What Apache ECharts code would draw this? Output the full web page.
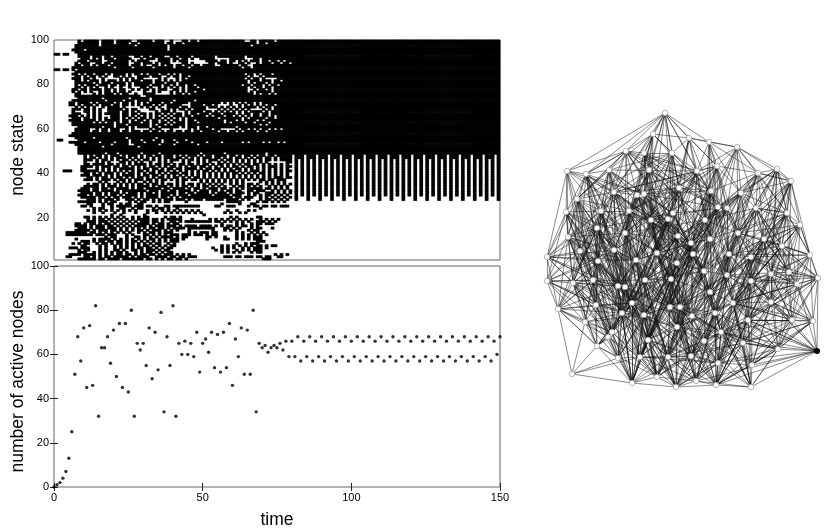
<!DOCTYPE html>
<html>
<head>
<meta charset="utf-8">
<script src="https://cdn.jsdelivr.net/npm/echarts@6/dist/echarts.min.js"></script>
<style>
html, body { margin: 0; padding: 0; background: #fff; }
#chart { width: 830px; height: 532px; }
</style>
</head>
<body>
<div id="chart"></div>
<script>
// node state, top row (100) first, columns t = 0..79
const stateHead = [
"........#.#####.####.#####..#####.###..#...##.##.###############..##.#####.#####",
"........#######.####.####.##.########.##.##.########################.##.#########",
".......########.###########.##########.###########################.##############",
".......###############################.#########################################",
"......####.###########################.#########################################",
".......#########################################################################",
"##.##...########################################################################",
"........####.###.##.#####..##.##.####..##.####.#######.#########.###############",
".........###.#.#.###.#####...#.###.####.##.##.#..#####.....#####...##.##########",
"........###.####..#######.#.####...####.#.###......####.##.##.#.#.###.##.##.#.##",
".......#.###..##.##.#####..##.###.#.###....##.#.....##.###.#..##.#..#.###.##.##.#",
".......##.##.#.###.######.###.#..##.#.##.##.##.##.####..######.##..##############",
"......##############.#####.######.######.####.#################.##.##############",
"##.##.#.########################################################################",
".......#########################################################################",
"......##.#.##.###.#.####.#.##.#.###.##.#.#.#####################.##.#.###.#######",
".......##.#.##.#.#..##.#.#..####.###..#.##.##.###################.#..#.##########",
"......###.##.#..#.....#.#.#.##.....#.#...#.#.###################.#.##.#....######",
".......##.#.###.#.###.#.#.###.###.##.#.#.#.######################.###.###.##.####",
".......######.#.###.####.#.######.###.###.#######################.#.###.#.#######",
".......#.#.###.###.##.##.#.#####.###.##.#.##.##.###############.##.###.#.##.####",
".......##.#.#.#..#.#..#..#...##.#..#.#.#.#.#.###.################.#.##.##.#######",
"......##.##.####.##.#.##..#.#.##.#.###..##.#.#####.##############..#.##.#.######",
"......#.#.#.#..#.##.#.##.#....#..#.#...#.#.#.##.#################.#.#####.#######",
".......##....#.#.###.#.##..#..####.....#.##.#.#####################.#.##.#.######",
".......######################..#################################################",
"........########.########.######.###############################################",
"......###########.#####.###.####.#######.######.################################",
".....##.####.#.#####.#.##.#.#.#.####.##.#####.##########.#.#.#.#.##.#.##########",
".....##.#.###.#.###.##.##.#.#.###.#.#.#####...####.##.#....#..#.#.#.#.#.##.#####",
".......#.#.#.#..#.####.#.....#.#.#.#..####.##.#####.###.#.#.#.#.####.#.##.######",
"......###.##.#.#..#####.#.##....##..#.#.#.##.#.####....#.#.#.#.#.#....#.#.######",
"......#...##.#.#..####.##.#.#.....#.###.#...#.####.##.#.#.#.#.#.#.####.#.#######",
"......###..#.#.#.#####.##.##.##.#.##.#.#.##.#.##.###.###.####.#.##.##.##.#######",
".....###.#.#.#.#...###.##.#.#.#.#.#.#.#.###.##.####.#.###.##.#.#.#.##.##.#.#####",
"......###.##.#.#.#.###.#.#.#.##.#.##.#.#.#.#.##########.#######.#.#####.##.#####",
".....####.####.#.#####.##.#.##.#.##.#.#.##.#.##.#########.###.#.####.#.#########",
"......#######.#.#.##.#.##.###.##.##.##.#.###.###.########.#.####.##.####.#######",
"......##############.###.#######.#.##.#.####.########################.#.#########",
"........########.###.####.#.####.##.######.#.###.##.#########.##################",
".......#####..#.##.###..#.#.....#.##...#.....#.#.####.##.....#.##.#.#.##.#.#.###",
".......#####.##.##.###.##.###.##.##.#.##.##.##.##.#####.##.##.#.####.##.########",
"......##########################################################################",
".....###########################################################################",
".......######.##########.#########.#############################################",
".##.....#################.###.###.##.###.###.####################################",
".....#####.####.####.####.####.#####.####.####.####.####.######.#.####.#.##.#.##",
".......############.#####..########.####.#######.###############################",
"........########.###########.###################################################",
"........########################################################################",
"........########################################################################",
"........#########.###.#######.#####.#############.#######.#############.########",
"..........#.#.##.#.###.#.###.#.##.##.###.#.#.###.#.##.####.##.#.##.#.##.##.#####",
"..........#.##.#.#.#.###.#.#.#.#.#.#.###.##.#.#.#.###.##.#.#.##.#.#.##.##.#.####",
"..........###.#.##.#.#.##.#.#.##.#.#.#.###.#.##.#.#.###.#.##.#.#.#.#.#.##.#.####",
"..........#...#.#.#...##.#.#.#..#..#.#.#...#.#..#.#.#..#.#.#.#.#.#.#.#.#......##",
"..........##.####.##.#.#.#.####.#.##.##.#.##.##.#.##.#.##.#.#.#.##.##.#.#.#.#.#.",
".........####.#.###.##.##.#.#.#.##.#.#.##.#.#.##.##.#.#.#.#.##.#.##.#.#.###.#.##",
".........##...#.#.#.#.#####.#.##.##.#.##.##.####.#.##.##.#.#.##.#.#.#.#.#.#.#.#.",
"...###...######.#.#.#.#.#.#.##.#.#.##.#.#.#.#.#.#.##.#.#.#.##.#.#.###.#.#.#.#.##",
"..........##.#.#.###.#.#.##.#.#.##.#.#.###.##.#.#.#.#.#.#.#.##.#.#.#.##.#.#.#.#.",
".........###.###.#.#.#.####.#.##.##.#.#.#.#.#.#.#.#.#.#.#.#.#.#.#.#.#.#.#.#.#.#.",
"...........##.#.##.#.##.#.#.##.#.#.##.#.##.#.#.##.#.#.#.#.#.#.#.#.#.#.#.#.###.##",
"..........###.#.###.#.##.#.###.##.#.##.#.#.##.##.#.#.#.#.#.#.#.#.#.#.##.##.###..",
"...............#.#...#.#.#.#..#.#.#.#....#.#.....#.#.#.#.#.#.#.#.....#.#.#.#.#.",
"...........#.##.#.#.#.#.#.#.##.#.##.#.##.#.#.##.#.#.#.#.#..#.#.#.##.#..#.#.#.#.#",
"..........#####.#.###.#.#.#.####.#.###.#.#.##.#.#.##.#.#.#..#.##.#.#.#..#.#.#.#.",
".........###.##.##.#.####.#.##.#####.##.####.#.##.#.###.##.#.#.#.#####.##.#.#.#.#",
"........####.##.####.#.########.###.##.##.####.#.###.##.#.##.##..##.###..#.#.#.#",
".........####.##.#.###.#.###.#.##.#.#####.##.##.####.#.###.#.###.#.##..###.#.#.#",
"........###.#.##.#.##.#.####.#.####.###.#.###.#######.#####.###..#.#.#.##.#.#.#.",
".........#####.##.#.##.###.#.#.####.##.#.#.#################.##.###..#.#.#.#.#.#.",
"...........###.#.###.#..###.#.##.#.#.###.###.#.###.######.####.#.#...#.##.#.#.#.",
"........######.#.#.##....#.#.##..#.#.##.....#.............#####.....#.##.#.#.#..",
"...........##...#.##..#.##..##..........................#.....#...##.............",
".........##.#...#..#.#####.###.##.#..##.#########.....##..###....#.##.##.##.###.",
".............#.##..#..##..#.##...#.##.#..#...........................#.........",
"...........#.#.#.#.#.#.#.#.#...#.##.#.#.#.#.#.#.#.........#..#...#.#...........",
".............#..#...#..#...#...#..#..#.#.#.#.#.#.#.......#.#..#.#...............",
"...................#..#.......#...................#.............................",
"..........##.#.#.#.#.#.#..#.#.##.....#.##.#................#.#......##..........",
"...........#.#.##.#.#.#.#.#.####.##.#.#####...#.....#.#.#.#.#.#.#.#..#.#.#.#....",
"...........###.###.#.#.#.#.#.###.##.#..##.#.#########.##.#.#.#.#.#..###.#.#.....",
".......##.#.##.#.##.#.#.#.#.####.#.##.#.##..............#....#.#..#.##.###.......",
".......####.#.###.##.#.#.#.####.#.###.###.#.####.####.#.#.##.#.##.#.#...........",
"........###.#.###.###.#.#.#.#.#.##.##.#.####.#########...##.#.#...#.##...#.......",
".......#####.#.###.##.#.#.#.##.#.###.#.#.#...#.......#...#.#.#...#.##............",
"....#######.##.#.#.#.#.#.#..#.#.##.#.###.....#.#.###.##......#.#..#.#.#..........",
"....#########.###.###...#.#...##.#.#.#.###.###.###.#.##......#.#.#.#.#.#.........",
".................#.##...#..##.#.#.#.####.#.##......##.#..#...#.#.#.###...........",
".......#.....#.####.#.#.#.#.#.#.##.#.#.###.#.......#.....##..#.#.#.###............",
".........###.#.##.##.##.#.##.#.#.#.#.#.###..........................###...........",
"......#.#.##..#.##.#.##.#.#.#.#.#.##..#.#....................#..#.###.............",
".........##....#.#..#.#.#.#.#.##.#.#.#.##...............#.#.#.#.#.#.##.#.##.......",
".....###.###...#.#..#.#.#.#.##.##.#.#.##.............#..#.#.#..#.#.###.#..........",
"........#.##...#.#..##.#..##.#.###.#.##...............#.#.#..#.#.#.###............",
"........###..#.#.#.#.##.#..#.#.##.#.#.##................#.#.#.#...#.##............",
".....####.####.#.#.#.##.##.#.##.##.#.###.#.#.#............................#.#.#...",
"....##....##.#.#.##.#####.#.####..####.##.##.###.........###.##.###.##.##..##.....",
"........######.##.####.#######.##.#.#.##.##.#.........................###.........."
];

// stable oscillation, columns t = 80..149, rows 48 down to 28
const stateTail = [
".###.###.###.###.###.###.###.###.###.###.###.###.###.###.###.###.###.#",
".###.###.###.###.###.###.###.###.###.###.###.###.###.###.###.###.###.#",
".#.#.#.#.#.#.#.#.#.#.#.#.#.#.#.#.#.#.#.#.#.#.#.#.#.#.#.#.#.#.#.#.#.#.#",
".#.#.#.#.#.#.#.#.#.#.#.#.#.#.#.#.#.#.#.#.#.#.#.#.#.#.#.#.#.#.#.#.#.#.#",
".#.#.#.#.#.#.#.#.#.#.#.#.#.#.#.#.#.#.#.#.#.#.#.#.#.#.#.#.#.#.#.#.#.#.#",
".#.#.#.#.#.#.#.#.#.#.#.#.#.#.#.#.#.#.#.#.#.#.#.#.#.#.#.#.#.#.#.#.#.#.#",
".#.#.#.#.#.#.#.#.#.#.#.#.#.#.#.#.#.#.#.#.#.#.#.#.#.#.#.#.#.#.#.#.#.#.#",
".#.#.#.#.#.#.#.#.#.#.#.#.#.#.#.#.#.#.#.#.#.#.#.#.#.#.#.#.#.#.#.#.#.#.#",
".#.#.#.#.#.#.#.#.#.#.#.#.#.#.#.#.#.#.#.#.#.#.#.#.#.#.#.#.#.#.#.#.#.#.#",
".#.#.#.#.#.#.#.#.#.#.#.#.#.#.#.#.#.#.#.#.#.#.#.#.#.#.#.#.#.#.#.#.#.#.#",
".#.#.#.#.#.#.#.#.#.#.#.#.#.#.#.#.#.#.#.#.#.#.#.#.#.#.#.#.#.#.#.#.#.#.#",
".#.#.#.#.#.#.#.#.#.#.#.#.#.#.#.#.#.#.#.#.#.#.#.#.#.#.#.#.#.#.#.#.#.#.#",
".#.#.#.#.#.#.#.#.#.#.#.#.#.#.#.#.#.#.#.#.#.#.#.#.#.#.#.#.#.#.#.#.#.#.#",
".#.#.#.#.#.#.#.#.#.#.#.#.#.#.#.#.#.#.#.#.#.#.#.#.#.#.#.#.#.#.#.#.#.#.#",
".#.#.#.#.#.#.#.#.#.#.#.#.#.#.#.#.#.#.#.#.#.#.#.#.#.#.#.#.#.#.#.#.#.#.#",
".#.#.#.#.#.#.#.#.#.#.#.#.#.#.#.#.#.#.#.#.#.#.#.#.#.#.#.#.#.#.#.#.#.#.#",
".#.#.#.#.#.#.#.#.#.#.#.#.#.#.#.#.#.#.#.#.#.#.#.#.#.#.#.#.#.#.#.#.#.#.#",
".#.#.#.#.#.#.#.#.#.#.#.#.#.#.#.#.#.#.#.#.#.#.#.#.#.#.#.#.#.#.#.#.#.#.#",
".#.#.#.#.#.#.#.#.#.#.#.#.#.#.#.#.#.#.#.#.#.#.#.#.#.#.#.#.#.#.#.#.#.#.#",
".#...#...#...#...#...#...#...#...#...#...#...#...#...#...#...#...#...#",
".#...#...#...#...#...#...#...#...#...#...#...#...#...#...#...#...#...#"
];
const tailFirstRow = 52;
const lastBlackRow = 51;

const activeNodes = [
0,1,2,4,7,13,25,51,68,57,72,45,73,46,82,32,63,63,68,56,
71,50,74,45,74,43,80,32,65,62,65,55,72,49,70,53,79,34,68,55,
82,32,65,60,66,60,65,59,70,52,65,67,61,70,54,69,52,70,54,74,
46,67,59,72,51,71,51,80,34,65,63,64,61,63,64,63,65,62,66,59,
66,59,68,57,66,59,68,57,66,59,68,57,66,59,68,57,66,59,68,57,
66,59,68,57,66,59,68,57,66,59,68,57,66,59,68,57,66,59,68,57,
66,59,68,57,66,59,68,57,66,59,68,57,66,59,68,57,66,59,68,57,
66,59,68,57,66,59,68,57,66,60,68
];

const nodeX = [665,689,653,709,737,626,644,672,717,777,649,609,567,697,758,586,791,679,711,614,741,644,637,577,727,756,718,566,629,601,673,787,668,651,705,800,597,625,738,678,568,710,764,691,782,614,580,657,693,729,810,547,751,636,598,677,704,789,771,727,818,593,671,645,547,751,573,797,618,625,710,771,733,632,596,670,680,558,622,715,644,692,748,792,813,585,677,721,612,608,648,704,743,597,778,817,691,640,668,618,718,752,572,657,696,632,716,676,751];
const nodeY = [113,138,134,142,147,151,153,153,166,169,170,170,171,171,173,174,181,188,191,192,193,194,195,199,208,208,207,212,211,211,213,213,219,220,220,225,228,233,233,236,237,239,239,243,246,250,251,253,254,254,255,257,257,260,261,263,271,272,274,275,278,280,279,280,281,281,283,284,286,287,292,302,303,303,305,307,307,309,313,313,315,316,320,320,321,322,327,332,332,337,340,341,343,346,349,351,356,357,357,358,363,365,374,377,381,383,385,387,387];
const activeNode = 95;

// neighbours of node i with a higher index
const edgeLists = [
[1,2,3,5,6,7,10,12,13,15,17,21,30,8],[2,3,4,7,8,13,17,18,30,32,34,39],[5,6,7,10,11,19,21,22,33,28],[4,8,13,14,18,20,26,34,41,24],
[8,9,14,16,18,20,25,24,38,31],[6,10,11,12,15,19,22,23,28,29,37],[7,10,13,17,21,22,33,32,37,47],[13,17,18,30,32,33,39,47,43],
[13,14,18,20,24,26,34,38,41,49],[14,16,20,25,31,35,38,42],[17,19,21,22,28,33,37,45,47,53],[15,19,23,28,29,36,37,45,54],
[15,23,27,40,46,51,29,61],[17,18,26,30,34,39,41,43,48],[16,20,25,31,42,44,49,38],[19,23,27,29,36,40,46,54],
[25,31,35,42,44,50,57],[21,30,32,33,39,43,47,55,56,26,18],[24,26,34,38,41,43,48,49,56,59],[22,28,29,36,37,45,53,54,61,68],
[24,25,26,38,42,49,52,59,65],[22,28,33,37,47,53,55,63,30],[28,33,37,45,53,63,68,69,47],[27,29,36,40,46,54,61,66],
[26,34,38,41,49,52,59,65,70],[31,38,42,44,49,52,58,57,65],[34,41,43,48,49,56,59,70],[29,36,40,46,51,54,64,61,66],
[29,33,36,37,45,53,54,68,69,73],[36,37,40,45,46,54,61,74,68],[32,33,39,43,47,48,55,56,62],[35,42,44,50,57,58,67,65],
[33,39,43,47,48,55,62,63,75],[37,47,53,55,62,63,69,73,75],[38,41,43,48,49,56,59,70,72],[44,50,57,60,67],
[40,45,46,54,61,66,68,74,78],[45,47,53,63,68,69,73,78,80],[42,49,52,59,65,72,82,58],[43,47,48,55,56,62,70,76,75],
[46,51,54,61,64,66,74,77],[43,48,49,56,59,70,72,79,81],[44,52,57,58,65,71,82],[48,55,56,62,70,75,76,81,86],
[50,57,58,60,67,71,83],[53,54,61,68,69,73,74,78,88],[51,54,61,64,66,74,77,85],[53,55,62,63,73,75,80,90],
[55,56,59,62,70,76,79,81,87],[52,56,59,65,70,72,79,82,87],[57,60,67,83,84],[64,66,77,61],
[58,59,65,71,72,82,92,79],[63,68,69,73,78,80,88,90,54],[61,66,68,74,78,85,88,89],[56,62,63,70,75,76,81,86,90],
[59,62,70,76,79,81,87,91],[58,60,67,71,83,84,94],[65,67,71,82,83,92,94],[65,70,72,79,82,87,91,92],
[67,83,84,95,71],[66,68,74,77,85,88,89,93,64],[63,70,75,76,80,86,90,96,98],[69,73,75,78,80,90,97,98],
[66,77,74,85],[71,72,82,83,92,94,101],[74,77,85,78,89,93],[71,83,84,94,95],
[69,73,74,78,88,89,99,80],[73,78,80,88,90,97,99],[72,76,79,81,86,87,91,96,100],[82,83,84,92,94,95,101],
[79,82,87,91,92,100,101],[78,80,88,90,97,99,89],[78,85,88,89,93,99],[76,80,81,86,90,96,98,103],
[81,86,91,96,98,104,87],[85,102,93],[80,88,89,90,93,97,99,105],[81,87,91,92,96,100,106],
[86,90,97,98,99,103,105],[86,87,91,96,100,104,98],[83,87,92,94,100,101,95,106],[84,94,95,101],
[95,94],[93,102,89,99],[90,91,96,98,103,104,107],[91,92,96,100,101,106],
[89,93,97,99,105],[93,99,105,97],[97,98,99,103,105,107],[96,100,104,106,107],
[94,100,101,106,108,95],[99,102,105],[95,101,108,106],[100,101,104,106,108],
[98,100,103,104,106,107],[99,102,103,105,107],[103,104,105,107],[102,105],
[101,104,106,108,107],[106,108],[105],[105,107,104],[106,107,108],[107],[107,108],[],[]
];

// long links across the drawing: first number is the node, the rest its far neighbours
const crossLists = [
[0,19,26,33],[2,18,26,37],[4,13,26,34,43],[5,13,18,26,34,43,56,39],[6,18,24,41,48,59],[7,11,23,29,36,37,53],
[8,19,28,37,33,47,55,62,75],[9,26,34,41,59],[10,26,34,41,56,62,76],[11,13,21,30,33,39,43,63,69],[12,19,28,21],
[13,19,22,28,37,53,63,73,80],[14,18,26,34,43,48,56,70,81],[15,21,28,33,37,53,63,69,78],[16,38,49,59,65,72],
[17,19,28,37,45,53,68,73],[18,21,33,47,63,75,80,90],[19,33,39,43,48,55,62,75],[20,34,39,43,55,62,76,86],
[21,26,41,48,56,70,79],[22,39,43,55,56,62,76,81],[23,28,37,45,53,68,73,78],[24,30,39,43,55,62,75,86,98],
[25,34,41,56,70,79,81,91],[26,33,47,63,75,80,90,97],[27,37,45,53,68,73,78,88],[28,39,43,48,55,62,75,86],
[29,33,47,63,69,80,90,97],[30,36,45,61,68,74,78,88],[31,41,49,59,72,79,87,100],[32,45,53,68,73,78,88,99],
[33,41,48,56,70,81,86,96],[34,37,47,63,75,80,90,98],[35,49,59,65,72,82],[36,53,63,73,80,90,97,103],
[37,43,55,62,75,86,98,103],[38,48,56,70,76,81,91,96],[39,53,68,73,78,88,97,105],[40,53,63,69,78,88,89],
[41,47,62,75,80,90,98,103],[42,56,59,70,72,79,87,100],[43,53,68,73,80,90,97,107],[45,62,63,75,80,90,98],
[46,53,68,69,73,78,88],[47,56,70,76,81,91,96,104],[48,63,73,80,90,97,103],[49,62,75,86,96,104,107],
[50,52,65,71,82,92],[51,54,45,53],[52,70,76,81,91,96,100,106],[53,75,86,98,103,107],[54,69,73,80,90,97,105],
[55,73,78,88,97,99,105],[56,63,75,80,90,98,103],[58,70,72,79,87,91,100,106],[59,75,76,81,96,98,104],
[60,65,72,82,92],[61,69,73,78,80,90,97],[62,69,73,78,88,97,99,105],[63,76,86,96,98,103,107],[64,63],
[65,76,79,81,87,91,100,106],[66,68,69,73,80,88,99],[67,65,82,92,72],[68,75,86,90,98,105],[69,76,81,96,103,107],
[70,80,90,98,103,107,101],[72,81,86,96,104,106,108],[73,81,86,96,103,105],[74,80,90,97,105,73],
[75,87,91,100,104,106],[76,79,87,92,100,106],[77,74,68,78,73],[78,86,98,103,107],[79,86,96,98,101,108,104],
[80,91,96,100,104,107],[81,90,97,103,105,101],[82,91,96,104,106,107],[83,72,92,87],[84,72,82,92,101],[85,78,88,80],
[86,87,92,100,106,97],[87,94,98,103,104,107,108],[90,96,100,104,107],[91,98,103,108,101],[92,96,98,104,107],
[95,65,72,79,87,82],[96,97,105],[97,98,104,100],[98,100,106],
[23,19,11,5,45,74,88],[40,19,28,37,45,68,74],[51,23,29,36,61,74,68],[64,36,45,54,74,88,78],[66,29,36,45,88,93],
[77,36,61,54,88,93,89],[46,19,28,37,11],[15,5,45,54],[9,31,38,58,65,71],[16,14,20,38,52,58,65],[35,25,38,42,52,65,71],
[44,25,38,49,59,65,72,82],[50,31,38,42,49,58],[57,25,38,42,49,52,59,72,82],[60,42,44,52,57,58,82,94],[67,42,52,58,59,72],
[71,59,49,72,87,92,101],[83,58,65,59,72,82,101,106],[84,58,65,71,92,94,106],[94,72,79,87,100,106,92],[31,25,20,38,52,59],
[108,79,72,82,87,92,94],[106,87,92,82,79,91,96],[107,91,96,100,86,80],[105,88,78,73,80,90,68],[103,88,89,93,97,80],[93,78,73,80,88,89]
];

const stateCells = [];
stateHead.forEach((row, i) => {
  const fill = i < lastBlackRow + 1 ? '#' : '.';
  const head = row.slice(0, 80).padEnd(80, fill);
  const tail = stateTail[i - tailFirstRow] || '';
  const full = (head + tail).padEnd(150, fill);
  for (let t = 0; t < 150; t++) {
    if (full[t] === '#') stateCells.push([t, 99 - i, 1]);
  }
});

const links = [];
edgeLists.forEach((list, i) => list.forEach(j => links.push({ source: i, target: j })));
crossLists.forEach(([i, ...far]) => far.forEach(j => links.push({ source: i, target: j })));
const nodes = nodeX.map((x, i) => ({
  value: [x, nodeY[i]],
  itemStyle: i === activeNode ? { color: '#000', borderColor: '#000' } : undefined
}));

const font = 'Liberation Sans';
const labelStyle = { color: '#000', fontFamily: font, fontSize: 11 };
// padding nudges the rotated names down along the axis
const nameStyle = { color: '#000', fontFamily: font, fontSize: 17.5 };
const yNameStyle = { ...nameStyle, padding: [0, 10, 0, 0] };
const frame = { show: true, borderColor: '#666', borderWidth: 1, backgroundColor: '#fff', outerBoundsMode: 'none' };
const inTick = { show: true, inside: true, length: 4, lineStyle: { color: '#222', width: 1 } };
const noLine = { show: false };

const chart = echarts.init(document.getElementById('chart'), null, { renderer: 'canvas' });
chart.setOption({
  animation: false,
  backgroundColor: '#fff',
  grid: [
    { left: 54, top: 40, width: 446, height: 220, ...frame },
    { left: 54, top: 266, width: 446, height: 221, ...frame },
    { left: 540, top: 105, width: 290, height: 290, show: false, outerBoundsMode: 'none' }
  ],
  xAxis: [
    { type: 'category', gridIndex: 0, data: Array.from({ length: 150 }, (_, t) => t), show: false },
    { type: 'value', gridIndex: 1, min: 0, max: 150, interval: 50, position: 'bottom',
      axisLine: noLine, axisTick: inTick, splitLine: noLine,
      axisLabel: { ...labelStyle, margin: 5 },
      name: 'time', nameLocation: 'middle', nameGap: 24, nameTextStyle: nameStyle },
    { type: 'value', gridIndex: 1, min: 0, max: 150, interval: 50, position: 'top',
      axisLine: noLine, axisTick: inTick, splitLine: noLine, axisLabel: noLine },
    { type: 'value', gridIndex: 2, min: 540, max: 830, show: false }
  ],
  yAxis: [
    { type: 'category', gridIndex: 0, data: Array.from({ length: 100 }, (_, r) => r + 1), show: false },
    { type: 'value', gridIndex: 0, min: 1, max: 100, position: 'left',
      axisLine: noLine, axisTick: noLine, splitLine: noLine,
      axisLabel: { ...labelStyle, margin: 5, customValues: [20, 40, 60, 80, 100] },
      name: 'node state', nameLocation: 'middle', nameGap: 27, nameMoveOverlap: false, nameTextStyle: yNameStyle },
    { type: 'value', gridIndex: 1, min: 0, max: 100, interval: 20, position: 'left',
      axisLine: noLine, axisTick: inTick, splitLine: noLine,
      axisLabel: { ...labelStyle, margin: 5 },
      name: 'number of active nodes', nameLocation: 'middle', nameGap: 27, nameMoveOverlap: false, nameTextStyle: yNameStyle },
    { type: 'value', gridIndex: 1, min: 0, max: 100, interval: 20, position: 'right',
      axisLine: noLine, axisTick: inTick, splitLine: noLine, axisLabel: noLine },
    { type: 'value', gridIndex: 2, min: 105, max: 395, inverse: true, show: false }
  ],
  series: [
    {
      type: 'heatmap', xAxisIndex: 0, yAxisIndex: 0, data: stateCells,
      itemStyle: { color: '#000', borderColor: '#000', borderWidth: 0.15 }, emphasis: { disabled: true }, progressive: 0
    },
    {
      type: 'scatter', xAxisIndex: 1, yAxisIndex: 2, clip: false,
      symbol: 'circle', symbolSize: 3.4, itemStyle: { color: '#000' },
      data: activeNodes.map((v, t) => [t, v])
    },
    {
      type: 'graph', coordinateSystem: 'cartesian2d', xAxisIndex: 3, yAxisIndex: 4,
      layout: 'none', symbol: 'circle', symbolSize: 5.5, silent: true,
      itemStyle: { color: '#fff', borderColor: '#999', borderWidth: 0.7, opacity: 1 },
      lineStyle: { color: '#111', width: 0.7, opacity: 0.7, curveness: 0 },
      data: nodes, links: links
    }
  ]
});
</script>
</body>
</html>
